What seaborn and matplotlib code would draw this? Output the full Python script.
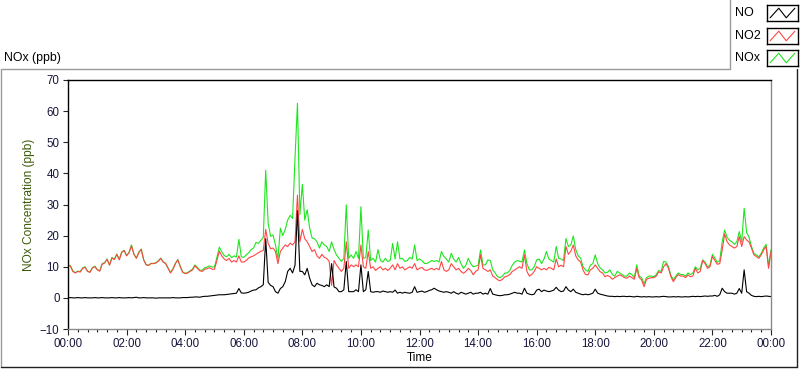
import numpy as np
import pandas as pd
import matplotlib
matplotlib.use("Agg")
import matplotlib.pyplot as plt
import seaborn as sns
from matplotlib.ticker import MultipleLocator, FuncFormatter
from matplotlib.lines import Line2D

# 5-minute readings from 00:00 to 24:00 (ppb)
no = [
    0.0, 0.1, 0.0, 0.0, 0.1, 0.0, 0.0, 0.1, 0.0, 0.0, 0.0, 0.1,
    0.0, 0.0, 0.1, 0.0, 0.0, 0.0, 0.1, 0.0, 0.0, 0.1, 0.0, 0.0,
    0.0, 0.1, 0.0, 0.1, 0.2, 0.0, 0.0, 0.1, 0.0, 0.0, 0.0, 0.0,
    -0.1, 0.0, 0.0, 0.0, 0.0, 0.0, 0.0, 0.1, 0.0, 0.0, 0.0, 0.1,
    0.1, 0.1, 0.2, 0.2, 0.3, 0.3, 0.2, 0.4, 0.5, 0.5, 0.6, 0.7,
    0.8, 0.9, 1.0, 1.0, 1.0, 1.1, 1.2, 1.3, 1.4, 1.5, 3.0, 1.6,
    1.5, 1.6, 1.8, 2.2, 2.5, 2.6, 3.2, 3.6, 4.2, 19.0, 5.0, 4.0,
    3.6, 2.0, 1.5, 3.0, 3.6, 5.2, 8.5, 9.5, 8.0, 10.5, 28.0, 8.5,
    8.5, 7.4, 9.5, 6.3, 4.2, 3.6, 4.7, 4.2, 4.0, 3.6, 4.2, 3.6,
    11.0, 3.5, 3.1, 2.0, 2.0, 2.6, 11.7, 2.0, 2.0, 2.0, 2.6, 2.0,
    10.6, 2.0, 2.6, 8.5, 2.0, 1.8, 2.0, 2.0, 1.8, 2.2, 2.0, 1.8,
    2.0, 1.8, 2.5, 1.5, 1.8, 1.5, 1.8, 1.6, 1.5, 1.8, 3.6, 1.8,
    2.0, 2.2, 1.8, 2.0, 2.4, 2.6, 3.1, 2.6, 2.2, 2.0, 1.8, 2.0,
    1.8, 1.5, 2.0, 1.5, 1.2, 1.8, 1.5, 1.2, 1.5, 1.8, 1.2, 1.5,
    1.5, 1.8, 1.2, 1.5, 1.2, 3.0, 1.2, 1.0, 0.8, 0.7, 0.8, 1.0,
    1.0, 1.2, 1.5, 1.8, 1.5, 1.5, 1.2, 3.1, 1.5, 1.2, 1.0, 1.2,
    2.5, 2.8, 2.0, 2.5, 2.2, 2.0, 2.2, 2.5, 3.4, 2.5, 2.0, 2.2,
    3.6, 2.5, 2.0, 2.8, 1.8, 1.5, 1.2, 1.0, 1.2, 1.0, 1.2, 1.5,
    2.8, 1.5, 1.2, 1.0, 0.8, 0.6, 0.5, 0.5, 0.4, 0.5, 0.4, 0.5,
    0.5, 0.4, 0.5, 0.4, 0.3, 0.5, 0.4, 0.3, 0.4, 0.3, 0.4, 0.3,
    0.3, 0.4, 0.3, 0.4, 0.5, 0.4, 0.3, 0.3, 0.4, 0.3, 0.4, 0.3,
    0.3, 0.4, 0.3, 0.4, 0.5, 0.4, 0.5, 0.4, 0.5, 0.6, 0.5, 0.6,
    0.6, 0.8, 0.5, 1.0, 3.1, 2.0, 1.5, 1.5, 1.5, 1.2, 1.5, 3.0,
    1.5, 9.0, 2.0, 1.5, 0.8, 0.5, 0.4, 0.5, 0.4, 0.5, 0.6, 0.5,
    0.4,
]

no2 = [
    10.5, 10.2, 8.5, 8.0, 8.5, 8.3, 9.5, 9.8, 8.5, 8.2, 9.6, 10.0,
    9.0, 8.6, 10.8, 11.2, 12.4, 10.5, 12.8, 12.3, 14.0, 12.2, 14.6, 15.2,
    13.5, 14.5, 16.7, 14.0, 12.7, 14.5, 15.6, 12.2, 10.6, 10.4, 11.0, 11.0,
    11.2, 11.8, 12.7, 11.5, 11.0, 9.5, 8.0, 9.2, 11.0, 12.2, 10.0, 8.2,
    7.8, 8.0, 8.5, 9.0, 10.3, 9.5, 8.7, 8.5, 9.2, 9.4, 9.7, 9.2,
    9.2, 12.0, 15.0, 13.5, 12.5, 12.0, 12.7, 11.5, 12.0, 11.5, 13.5, 11.5,
    11.5, 12.0, 12.8, 13.2, 13.5, 14.0, 14.5, 15.0, 15.2, 22.0, 17.5, 15.8,
    16.0, 14.9, 11.0, 14.9, 16.0, 17.0, 16.5, 17.6, 17.0, 18.0, 33.0, 18.0,
    22.0, 19.0, 18.0, 16.5, 14.9, 15.5, 13.5, 12.7, 14.0, 13.0, 12.7, 11.7,
    4.0, 12.0, 10.6, 9.5, 8.5, 9.5, 18.0, 9.5, 10.6, 10.0, 10.6, 10.0,
    17.0, 10.0, 9.5, 14.9, 9.5, 10.0, 8.8, 9.5, 10.0, 9.0, 9.5, 8.8,
    9.5, 10.6, 9.0, 11.0, 9.5, 10.0, 9.0, 9.5, 10.0, 9.5, 11.0, 9.0,
    9.5, 9.8, 9.0, 8.8, 9.2, 9.5, 9.0, 9.5, 9.0, 11.7, 9.0, 8.5,
    9.0, 11.0, 10.0, 9.0, 9.5, 8.5, 7.9, 8.5, 9.5, 8.8, 7.4, 8.5,
    9.0, 13.8, 9.5, 9.0, 8.5, 9.0, 7.0, 6.5, 5.8, 5.5, 6.0, 6.8,
    7.0, 7.5, 8.5, 9.0, 9.5, 10.0, 9.5, 13.8, 8.5, 7.0, 7.5, 8.5,
    10.0, 9.5, 9.0, 9.5, 9.0, 9.8, 9.5, 9.0, 12.5, 10.0, 10.5, 10.0,
    16.5, 14.0, 15.0, 17.0, 13.5, 12.2, 11.5, 9.0, 7.5, 7.4, 9.0, 9.5,
    10.6, 9.5, 8.4, 8.0, 6.8, 7.2, 6.8, 6.0, 6.5, 7.0, 7.4, 7.0,
    6.5, 6.3, 7.0, 6.5, 6.0, 9.5, 6.5, 5.8, 3.6, 6.0, 6.3, 6.5,
    6.5, 7.0, 8.4, 8.0, 10.0, 11.0, 9.5, 6.8, 5.2, 6.5, 7.5, 7.0,
    7.0, 6.5, 7.4, 6.8, 7.0, 9.5, 8.0, 8.5, 12.0, 11.0, 9.5, 10.0,
    13.3, 12.0, 10.8, 11.0, 15.4, 20.5, 18.1, 17.0, 16.5, 16.0, 16.5, 19.7,
    16.5, 19.7, 18.6, 18.0, 16.0, 13.8, 13.3, 12.7, 13.8, 15.4, 16.5, 9.5,
    14.9,
]

nox = [
    10.6, 10.3, 8.6, 8.1, 8.6, 8.4, 9.6, 10.0, 8.6, 8.3, 9.7, 10.2,
    9.1, 8.7, 11.0, 11.3, 12.5, 10.6, 13.0, 12.4, 14.1, 12.4, 14.7, 15.3,
    13.6, 14.6, 17.0, 14.1, 12.8, 14.7, 15.7, 12.3, 10.7, 10.5, 11.1, 11.1,
    11.2, 11.9, 12.8, 11.6, 11.1, 9.6, 8.1, 9.4, 11.1, 12.3, 10.1, 8.3,
    7.9, 8.1, 8.7, 9.2, 10.6, 9.8, 8.9, 8.9, 9.7, 9.9, 10.3, 9.9,
    10.0, 13.0, 16.3, 14.8, 13.6, 13.2, 14.0, 12.9, 13.5, 13.1, 18.8, 13.2,
    13.0, 13.8, 14.5, 15.5, 16.0, 17.8, 17.5, 18.5, 19.4, 41.0, 24.0, 19.8,
    20.2, 17.0, 12.5, 22.4, 20.0, 22.0, 25.0, 26.5, 25.5, 44.9, 62.5, 26.7,
    36.5, 25.0, 28.3, 22.4, 19.2, 19.0, 18.0, 16.0, 18.0, 17.0, 16.5, 14.9,
    18.0, 15.5, 13.8, 12.7, 11.7, 12.7, 29.9, 12.7, 13.8, 12.7, 14.9, 12.7,
    29.3, 12.7, 13.0, 21.8, 12.0, 12.7, 11.5, 15.5, 12.0, 11.5, 12.7, 11.7,
    12.0, 17.5, 12.5, 18.0, 12.5, 12.7, 11.7, 12.0, 13.0, 12.5, 17.0, 12.0,
    12.5, 12.0, 11.1, 11.0, 11.5, 12.0, 11.7, 12.0, 11.5, 14.9, 13.3, 12.5,
    11.5, 14.3, 12.5, 11.5, 13.0, 11.0, 9.5, 10.5, 12.7, 11.0, 10.0, 10.2,
    10.5, 15.4, 10.6, 10.6, 12.2, 12.0, 9.0, 8.0, 6.8, 6.5, 7.0, 8.0,
    8.0, 8.8, 10.5, 11.5, 12.0, 11.8, 11.5, 15.4, 11.0, 9.0, 9.0, 10.0,
    12.2, 12.5, 11.0, 12.5, 14.9, 12.5, 12.0, 11.5, 16.5, 12.7, 12.5, 12.0,
    19.1, 16.5, 17.0, 19.9, 15.5, 13.5, 12.8, 10.0, 9.0, 8.5, 10.5, 11.0,
    13.8, 11.0, 9.6, 9.0, 8.0, 8.2, 9.0, 7.5, 7.0, 8.5, 8.0, 7.5,
    7.0, 7.0, 8.0, 7.5, 6.5, 10.6, 7.0, 6.5, 4.5, 6.5, 7.0, 7.0,
    6.8, 7.5, 8.8, 8.5, 11.7, 11.5, 10.0, 7.2, 5.8, 7.0, 8.0, 7.5,
    7.5, 7.0, 8.0, 7.5, 8.0, 10.0, 9.0, 9.5, 12.2, 11.5, 10.0, 10.5,
    14.0, 12.8, 11.4, 12.0, 18.0, 21.8, 19.5, 18.5, 18.0, 17.2, 18.0, 21.3,
    18.0, 28.8, 21.0, 19.5, 16.5, 14.3, 13.8, 13.2, 14.3, 16.0, 17.2, 10.2,
    15.5,
]

hours = np.arange(len(no)) * 5 / 60.0
df = pd.DataFrame({"Time": hours, "NO": no, "NO2": no2, "NOx": nox})

colors = {"NO": "#000000", "NO2": "#ff4646", "NOx": "#1ee61e"}
label_color = "#16163c"

sns.set_style("white")
plt.rcParams["font.family"] = ["Liberation Sans", "DejaVu Sans"]
plt.rcParams["font.size"] = 8

W, H = 800, 369
fig = plt.figure(figsize=(W / 100, H / 100), dpi=100)
fig.patch.set_facecolor("white")


def fx(px):
    return px / W


def fy(py):
    return 1 - py / H


ax = fig.add_axes([fx(68), fy(329), fx(771) - fx(68), fy(80) - fy(329)])

# NOx underneath, then NO2, NO on top
for name in ["NOx", "NO2", "NO"]:
    sns.lineplot(data=df, x="Time", y=name, color=colors[name], lw=0.8,
                 ax=ax, legend=False)

ax.set_xlim(0, 24)
ax.set_ylim(-10, 70)
ax.xaxis.set_major_locator(MultipleLocator(2))
ax.xaxis.set_minor_locator(MultipleLocator(1 / 3))
ax.xaxis.set_major_formatter(FuncFormatter(lambda v, p: f"{int(round(v)) % 24:02d}:00"))
ax.yaxis.set_major_locator(MultipleLocator(10))

ax.tick_params(axis="y", which="major", direction="out", length=3.6, width=0.8,
               pad=2.5, labelsize=8.3, labelcolor=label_color, left=True)
ax.tick_params(axis="x", which="major", direction="out", length=4.3, width=0.8,
               pad=2.2, labelsize=8.3, labelcolor=label_color, bottom=True)
ax.tick_params(axis="x", which="minor", direction="out", length=2.2, width=0.8,
               bottom=True)

for side in ["top", "left"]:
    ax.spines[side].set_color("black")
    ax.spines[side].set_linewidth(1.0)
for side in ["bottom", "right"]:
    ax.spines[side].set_color("#8a8a8a")
    ax.spines[side].set_linewidth(1.0)

ax.set_xlabel("Time", fontsize=8.5, color="black")
ax.xaxis.set_label_coords(0.5, -(352 - 329) / 249)
ax.set_ylabel("NOx Concentration (ppb)", fontsize=8.6, color="#3c5a0a")
ax.yaxis.set_label_coords((35 - 68) / 703, 0.5)

# chart caption
fig.text(fx(4), fy(58), "NOx (ppb)", fontsize=8.8, color="black", va="center", ha="left")

# outer frame
fig.add_artist(Line2D([fx(1), fx(1)], [fy(69), fy(367)], color="#9a9a9a", lw=1))
fig.add_artist(Line2D([fx(1), fx(730)], [fy(69), fy(69)], color="#9a9a9a", lw=1))
fig.add_artist(Line2D([fx(1), fx(797)], [fy(367), fy(367)], color="#202020", lw=1))
fig.add_artist(Line2D([fx(797), fx(797)], [fy(69), fy(367)], color="#202020", lw=1))
# legend panel
fig.add_artist(Line2D([fx(730), fx(730)], [fy(0), fy(69)], color="#9a9a9a", lw=1))

legend_names = ["NO", "NO2", "NOx"]
legend_rows = [13, 36, 58]
for name, row in zip(legend_names, legend_rows):
    fig.text(fx(735), fy(row), name, fontsize=9, color="black", va="center", ha="left")
    icon = fig.add_axes([fx(767), fy(row + 8), fx(31), fy(0) - fy(16)])
    icon.set_xlim(0, 1)
    icon.set_ylim(0, 1)
    icon.plot([0.1, 0.38, 0.62, 0.9], [0.2, 0.8, 0.2, 0.8], color=colors[name], lw=0.8)
    icon.set_xticks([])
    icon.set_yticks([])
    for s in icon.spines.values():
        s.set_color("black")
        s.set_linewidth(1.0)

fig.savefig("out.png", dpi=100)
